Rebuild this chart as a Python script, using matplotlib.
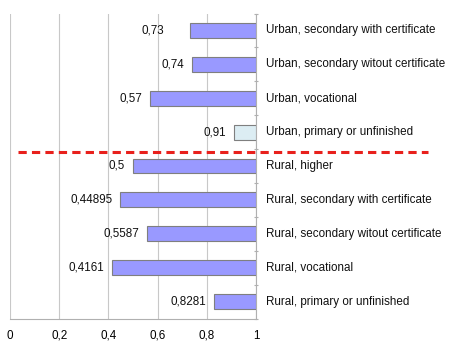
import numpy as np
import matplotlib
matplotlib.use("Agg")
import matplotlib.pyplot as plt

plt.rcParams['font.family'] = ['Liberation Sans', 'DejaVu Sans']

categories = ["Urban, secondary with certificate",
              "Urban, secondary witout certificate",
              "Urban, vocational",
              "Urban, primary or unfinished",
              "Rural, higher",
              "Rural, secondary with certificate",
              "Rural, secondary witout certificate",
              "Rural, vocational",
              "Rural, primary or unfinished"]
values = [0.73, 0.74, 0.57, 0.91, 0.5, 0.44895, 0.5587, 0.4161, 0.8281]
value_labels = ["0,73", "0,74", "0,57", "0,91", "0,5", "0,44895", "0,5587", "0,4161", "0,8281"]
xticks = [0, 0.2, 0.4, 0.6, 0.8, 1]
xtick_labels = ["0", "0,2", "0,4", "0,6", "0,8", "1"]

fig = plt.figure(figsize=(4.51, 3.5), dpi=100)
ax = fig.add_axes([10/451, 31.5/350, 246/451, 305/350])

y = np.arange(len(categories))
colors = ['#9999ff'] * len(categories)
colors[3] = '#dcedf3'
ax.barh(y, [1 - v for v in values], left=values, height=0.44,
        color=colors, edgecolor='#7f7f7f', linewidth=0.8, zorder=3)

for i, (yi, v, lab, cat) in enumerate(zip(y, values, value_labels, categories)):
    gap = 0.105 if i == 0 else 0.032  # first label sits further out in the original
    ax.text(v - gap, yi, lab, ha='right', va='center', fontsize=8.4, color='#111111')
    ax.text(1.04, yi, cat, ha='left', va='center', fontsize=8.4, color='#111111')

ax.set_xlim(0, 1)
ax.set_ylim(len(categories) - 0.5, -0.5)
ax.set_xticks(xticks)
ax.set_xticklabels(xtick_labels, fontsize=8.4)
ax.tick_params(axis='x', length=0, pad=8)
ax.set_yticks(np.arange(len(categories) + 1) - 0.5)
ax.set_yticklabels([])
ax.tick_params(axis='y', length=3, color='#b0b0b0', direction='inout')
ax.yaxis.tick_right()
ax.grid(axis='x', color='#c8c8c8', linewidth=0.8, zorder=0)

for s in ['top', 'left']:
    ax.spines[s].set_visible(False)
ax.spines['bottom'].set_color('#b0b0b0')
ax.spines['right'].set_color('#b0b0b0')

# separator between urban and rural groups
ax.plot([0.033, 1.7], [3.59, 3.59], color='#e8201c', linewidth=2.2,
        linestyle=(0, (2.7, 1.7)), clip_on=False, zorder=4)

fig.savefig("out.png", dpi=100)
